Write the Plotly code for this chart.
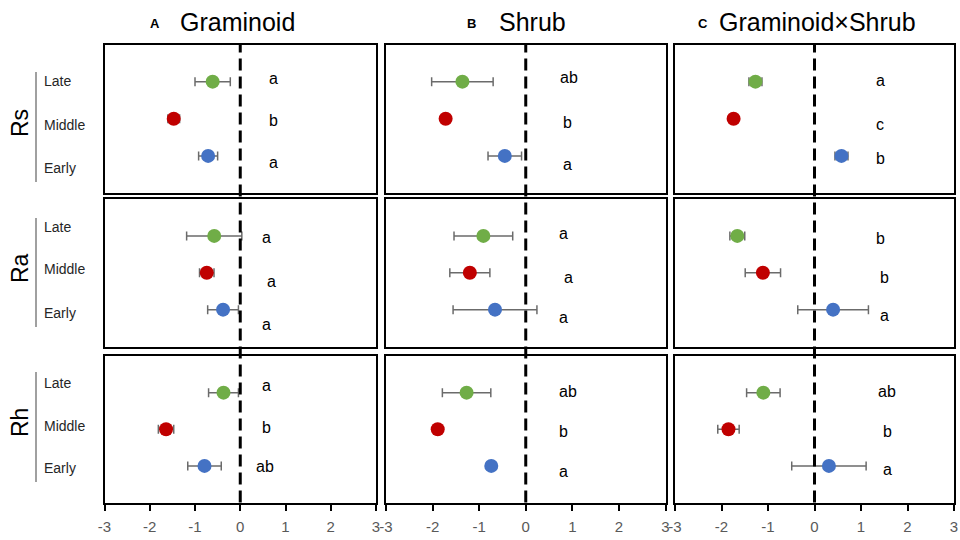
import plotly.graph_objects as go

# ---------------- data ----------------
stages = ["Late", "Middle", "Early"]
responses = ["Rs", "Ra", "Rh"]
groups = ["Graminoid", "Shrub", "Graminoid×Shrub"]
group_tags = ["A", "B", "C"]
tick_values = [-3, -2, -1, 0, 1, 2, 3]
tick_labels = ["-3", "-2", "-1", "0", "1", "2", "3"]

# means per response row: [Graminoid, Shrub, Graminoid×Shrub], each [Late, Middle, Early]
rs_means = [[-0.61, -1.47, -0.71], [-1.36, -1.72, -0.45], [-1.27, -1.74, 0.58]]
rs_errors = [[0.39, 0.13, 0.21], [0.66, 0.0, 0.36], [0.14, 0.0, 0.14]]
rs_letters = [["a", "b", "a"], ["ab", "b", "a"], ["a", "c", "b"]]

ra_means = [[-0.575, -0.74, -0.38], [-0.91, -1.20, -0.66], [-1.66, -1.11, 0.40]]
ra_errors = [[0.61, 0.16, 0.34], [0.63, 0.43, 0.90], [0.16, 0.38, 0.76]]
ra_letters = [["a", "a", "a"], ["a", "a", "a"], ["b", "b", "a"]]

rh_means = [[-0.37, -1.64, -0.79], [-1.27, -1.89, -0.74], [-1.10, -1.85, 0.31]]
rh_errors = [[0.33, 0.17, 0.37], [0.52, 0.0, 0.0], [0.36, 0.23, 0.80]]
rh_letters = [["a", "b", "ab"], ["ab", "b", "a"], ["ab", "b", "a"]]

means = [rs_means, ra_means, rh_means]
errors = [rs_errors, ra_errors, rh_errors]
letters = [rs_letters, ra_letters, rh_letters]

# ---------------- layout constants (positions / styles) ----------------
W, H = 960, 540
stage_pos = [3, 2, 1]          # y position of Late / Middle / Early within panel (range 0..4)
stage_colors = ["#70AD47", "#C00000", "#4472C4"]

col_px = [(104.5, 376.0), (386.0, 665.5), (675.0, 954.0)]
row_px = [(44.5, 193.0), (199.0, 346.5), (356.0, 502.5)]

# letter placement (x in data units, y in panel units) per row / column
letter_x = [[[0.73, 0.73, 0.73], [0.92, 0.90, 0.90], [1.41, 1.41, 1.41]],
            [[0.59, 0.68, 0.59], [0.82, 0.92, 0.82], [1.41, 1.51, 1.51]],
            [[0.59, 0.59, 0.54], [0.91, 0.81, 0.81], [1.56, 1.56, 1.56]]]
letter_y = [[[3.09, 1.96, 0.81], [3.10, 1.91, 0.76], [3.04, 1.84, 0.94]],
            [[2.95, 1.77, 0.59], [3.07, 1.87, 0.80], [2.93, 1.86, 0.84]],
            [[3.19, 2.06, 0.97], [3.04, 1.93, 0.86], [3.02, 1.95, 0.90]]]

stage_label_px = [[81, 125, 168], [226.7, 269.3, 312.7], [383.3, 426, 468.3]]
bracket_px = [(72, 182), (218, 327), (372, 482)]
row_title_px = [123, 268, 423]
col_tag_px = [155, 471, 703]
col_title_px = [178, 497, 717]

FONT = "Liberation Sans"


def px_x(p):
    return p / W


def px_y(p):
    return 1 - p / H


fig = go.Figure()
layout = dict(
    width=W, height=H, autosize=False, margin=dict(l=0, r=0, t=0, b=0, pad=0),
    paper_bgcolor="white", plot_bgcolor="white", showlegend=False,
    font=dict(family=FONT, color="black"),
)
annotations = []
shapes = []

for r in range(3):
    for c in range(3):
        k = r * 3 + c + 1
        xa = "xaxis" if k == 1 else f"xaxis{k}"
        ya = "yaxis" if k == 1 else f"yaxis{k}"
        xr = "x" if k == 1 else f"x{k}"
        yr = "y" if k == 1 else f"y{k}"
        bottom = r == 2
        layout[xa] = dict(
            domain=[px_x(col_px[c][0]), px_x(col_px[c][1])], anchor=yr,
            range=[-3, 3], showline=True, mirror=True, linecolor="black", linewidth=2,
            showgrid=False, zeroline=False, tickvals=tick_values, ticktext=tick_labels,
            showticklabels=bottom, ticks="outside" if bottom else "",
            ticklen=6, tickwidth=1.5, tickcolor="black", ticklabelstandoff=3,
            tickfont=dict(size=15, color="#595959", family=FONT), fixedrange=True,
            automargin=False,
        )
        layout[ya] = dict(
            domain=[px_y(row_px[r][1]), px_y(row_px[r][0])], anchor=xr,
            range=[0, 4], showline=True, mirror=True, linecolor="black", linewidth=2,
            showgrid=False, zeroline=False, showticklabels=False, ticks="",
            fixedrange=True, automargin=False,
        )
        fig.add_trace(go.Scatter(
            x=means[r][c], y=stage_pos, xaxis=xr, yaxis=yr, mode="markers",
            marker=dict(size=14, color=stage_colors, line=dict(width=0)),
            error_x=dict(type="data", array=errors[r][c], visible=True,
                         color="#6b6b6b", thickness=1.5, width=4.5),
            text=stages, hoverinfo="x+text",
        ))
        for i in range(3):
            annotations.append(dict(
                x=letter_x[r][c][i], y=letter_y[r][c][i], xref=xr, yref=yr,
                text=letters[r][c][i], showarrow=False,
                font=dict(size=16, color="black", family=FONT),
                xanchor="center", yanchor="middle",
            ))

# dashed zero lines spanning all rows of each column
for c in range(3):
    xr = "x" if c == 0 else f"x{c + 1}"
    shapes.append(dict(
        type="line", xref=xr, yref="paper", x0=0, x1=0,
        y0=px_y(row_px[2][1]), y1=px_y(row_px[0][0]),
        line=dict(color="black", width=3, dash="12px,6px"), layer="above",
    ))

# row labels, brackets and stage labels
for r in range(3):
    annotations.append(dict(
        x=px_x(20), y=px_y(row_title_px[r]), xref="paper", yref="paper",
        text=responses[r], textangle=-90, showarrow=False,
        font=dict(size=23, color="black", family=FONT),
        xanchor="center", yanchor="middle",
    ))
    shapes.append(dict(
        type="line", xref="paper", yref="paper",
        x0=px_x(36), x1=px_x(36), y0=px_y(bracket_px[r][0]), y1=px_y(bracket_px[r][1]),
        line=dict(color="#808080", width=1.5),
    ))
    for i in range(3):
        annotations.append(dict(
            x=px_x(42), y=px_y(stage_label_px[r][i]), xref="paper", yref="paper",
            text=stages[i], showarrow=False,
            font=dict(size=14, color="#262626", family=FONT),
            xanchor="left", yanchor="middle",
        ))

# column titles
for c in range(3):
    annotations.append(dict(
        x=px_x(col_tag_px[c]), y=px_y(23), xref="paper", yref="paper",
        text=f"<b>{group_tags[c]}</b>", showarrow=False,
        font=dict(size=13, color="black", family=FONT),
        xanchor="center", yanchor="middle",
    ))
    annotations.append(dict(
        x=px_x(col_title_px[c]), y=px_y(22), xref="paper", yref="paper",
        text=groups[c], showarrow=False,
        font=dict(size=25, color="black", family=FONT),
        xanchor="left", yanchor="middle",
    ))

layout["annotations"] = annotations
layout["shapes"] = shapes
fig.update_layout(**layout)
fig.write_html("out.html")
